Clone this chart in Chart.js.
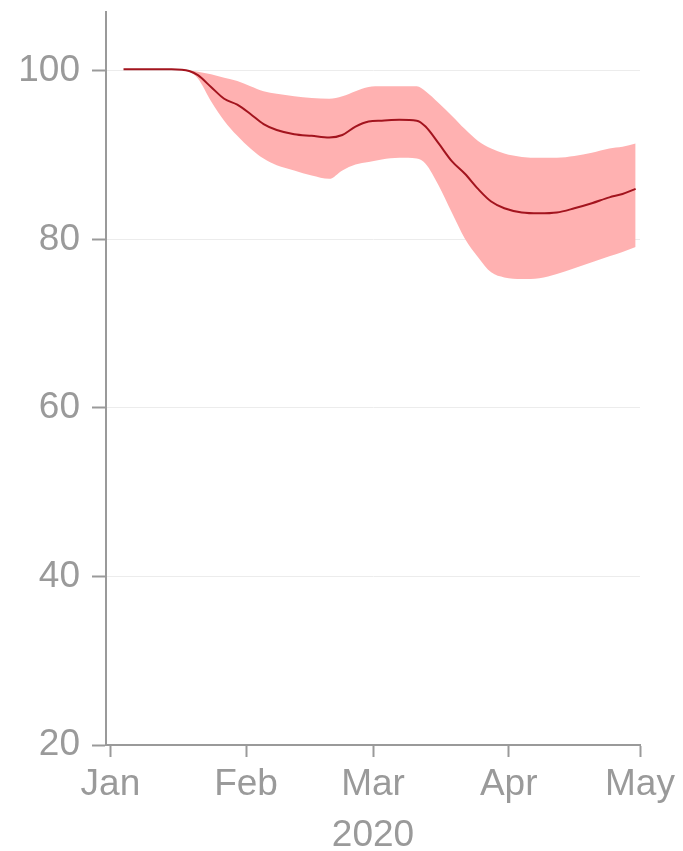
<!DOCTYPE html>
<html>
<head>
<meta charset="utf-8">
<script src="https://cdn.jsdelivr.net/npm/chart.js@4/dist/chart.umd.min.js"></script>
<style>
  html, body { margin: 0; padding: 0; background: #ffffff; }
  #wrap { width: 683px; height: 851px; }
</style>
</head>
<body>
<div id="wrap"><canvas id="chart" width="683" height="851"></canvas></div>
<script>
// Day of year (0 = 1 Jan 2020)
const days = [3, 6, 10, 14, 18, 20, 23, 26, 29, 32, 35, 38, 42, 46, 50, 53, 56, 59, 62, 66,
              70, 72, 75, 78, 81, 84, 87, 90, 94, 98, 102, 106, 110, 114, 117, 120];

// Central estimate of the index
const central = [100.2, 100.2, 100.2, 100.2, 100.0, 99.5, 98.1, 96.7, 96.0, 94.9, 93.7, 93.0,
                 92.5, 92.3, 92.1, 92.4, 93.4, 94.0, 94.1, 94.2, 94.1, 93.4, 91.4, 89.3,
                 87.8, 86.0, 84.5, 83.7, 83.2, 83.1, 83.2, 83.7, 84.3, 85.0, 85.4, 86.0];

// Upper and lower bounds of the range
const upper = [100.2, 100.2, 100.2, 100.2, 100.1, 99.9, 99.6, 99.2, 98.8, 98.2, 97.6, 97.3,
               97.0, 96.8, 96.7, 97.0, 97.6, 98.1, 98.2, 98.2, 98.2, 97.6, 96.2, 94.7,
               93.1, 91.7, 90.8, 90.2, 89.8, 89.7, 89.7, 89.9, 90.3, 90.8, 91.0, 91.4];

const lower = [100.2, 100.2, 100.2, 100.2, 99.9, 99.1, 96.4, 94.1, 92.3, 90.8, 89.6, 88.8,
               88.2, 87.6, 87.2, 88.2, 88.9, 89.2, 89.5, 89.7, 89.6, 89.0, 86.4, 83.2,
               80.1, 77.9, 76.1, 75.5, 75.3, 75.4, 75.9, 76.6, 77.3, 78.0, 78.5, 79.1];

// Month ticks on the time axis
const monthDays = [0, 31, 60, 91, 121];
const monthLabels = ['Jan', 'Feb', 'Mar', 'Apr', 'May'];
const yearLabel = '2020';

// Value ticks
const yTicks = [20, 40, 60, 80, 100];

const pts = arr => days.map((d, i) => ({ x: d, y: arr[i] }));

const grey = '#9a9a9a';
const font = { family: '"Liberation Sans", Arial, sans-serif', size: 37 };

new Chart(document.getElementById('chart'), {
  type: 'line',
  data: {
    datasets: [
      {
        // central line, drawn on top of the band
        data: pts(central),
        borderColor: '#a3141e',
        borderWidth: 2,
        pointRadius: 0,
        fill: false,
        order: 0,
        cubicInterpolationMode: 'monotone'
      },
      {
        data: pts(upper),
        borderWidth: 0,
        pointRadius: 0,
        backgroundColor: 'rgb(255,177,177)',
        fill: '+1',
        order: 1,
        cubicInterpolationMode: 'monotone'
      },
      {
        data: pts(lower),
        borderWidth: 0,
        pointRadius: 0,
        fill: false,
        order: 2,
        cubicInterpolationMode: 'monotone'
      }
    ]
  },
  options: {
    responsive: false,
    animation: false,
    layout: { padding: { left: 0, right: 43, top: 12, bottom: 0 } },
    plugins: { legend: { display: false }, tooltip: { enabled: false } },
    scales: {
      x: {
        type: 'linear',
        min: -1,
        max: 121,
        afterBuildTicks: s => { s.ticks = monthDays.map(v => ({ value: v })); },
        afterFit: s => { s.height = 106; s.paddingLeft = 0; s.paddingRight = 0; },
        ticks: {
          color: grey,
          font: font,
          padding: 6,
          maxRotation: 0,
          autoSkip: false,
          callback: v => monthLabels[monthDays.indexOf(v)]
        },
        grid: {
          drawOnChartArea: false,
          drawTicks: true,
          tickLength: 12,
          tickColor: grey,
          tickWidth: 2
        },
        border: { color: grey, width: 2 },
        title: {
          display: true,
          text: yearLabel,
          color: grey,
          font: font,
          padding: { top: 0, bottom: -7 }
        }
      },
      y: {
        min: 20,
        max: 107,
        afterBuildTicks: s => { s.ticks = yTicks.map(v => ({ value: v })); },
        afterFit: s => { s.width = 106; s.paddingTop = 0; s.paddingBottom = 0; },
        ticks: {
          color: grey,
          font: font,
          padding: 12
        },
        grid: {
          color: '#ececec',
          lineWidth: 1,
          tickLength: 14,
          tickColor: grey,
          tickWidth: 2
        },
        border: { color: grey, width: 2 }
      }
    }
  }
});
</script>
</body>
</html>
